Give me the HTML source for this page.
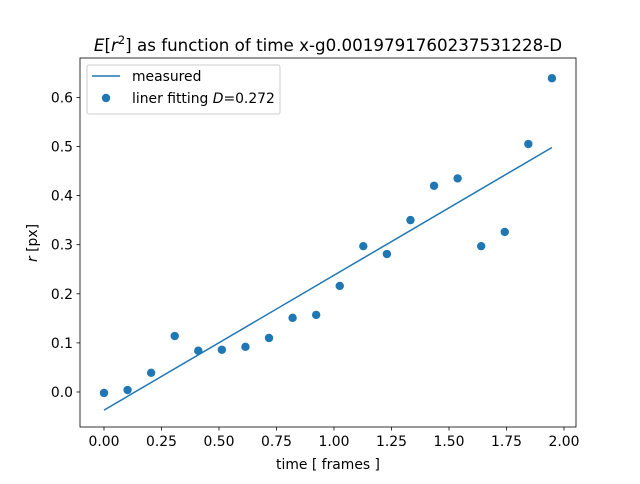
<!DOCTYPE html>
<html><head><meta charset="utf-8"><style>
body{margin:0;background:#fff;font-family:"DejaVu Sans","Liberation Sans",sans-serif;}
text{font-family:"DejaVu Sans","Liberation Sans",sans-serif;}
</style></head><body>
<svg id="chart" width="640" height="480" xmlns="http://www.w3.org/2000/svg"></svg>
<script>
const times=[0,0.1025,0.205,0.3075,0.41,0.5125,0.615,0.7175,0.82,0.9225,1.025,1.1275,1.23,1.3325,1.435,1.5375,1.64,1.7425,1.845,1.9475];
const values=[-0.002,0.004,0.039,0.114,0.084,0.086,0.092,0.110,0.151,0.157,0.216,0.297,0.281,0.350,0.420,0.435,0.297,0.326,0.505,0.639];
const fitX=[0,1.9475];
const fitY=[-0.037,0.498];
const xTicks=[0,0.25,0.5,0.75,1.0,1.25,1.5,1.75,2.0];
const xTickLabels=["0.00","0.25","0.50","0.75","1.00","1.25","1.50","1.75","2.00"];
const yTicks=[0,0.1,0.2,0.3,0.4,0.5,0.6];
const yTickLabels=["0.0","0.1","0.2","0.3","0.4","0.5","0.6"];
const L=80,R=576,T=58,B=427;
const xmin=-0.1043,xmax=2.0522,ymin=-0.0713,ymax=0.6802;
const sx=v=>L+(v-xmin)/(xmax-xmin)*(R-L);
const sy=v=>B-(v-ymin)/(ymax-ymin)*(B-T);
const svg=document.getElementById('chart');
const NS="http://www.w3.org/2000/svg";
function mk(tag,attrs,parent){const e=document.createElementNS(NS,tag);for(const k in attrs)e.setAttribute(k,attrs[k]);(parent||svg).appendChild(e);return e;}
const C="#1f77b4";
let pl=mk('polyline',{points:fitX.map((x,i)=>sx(x)+','+sy(fitY[i])).join(' '),fill:'none',stroke:C,'stroke-width':1.5});


times.forEach((t,i)=>{
  const c=mk('circle',{cx:sx(t),cy:sy(values[i]),r:4.2,fill:C});
  
  
});
const frame=mk('rect',{x:L,y:T,width:R-L,height:B-T,fill:'none',stroke:'#000','stroke-width':0.8});


xTicks.forEach((v,i)=>{
  const x=sx(v);
  mk('line',{x1:x,x2:x,y1:B,y2:B+3.5,stroke:'#000','stroke-width':0.8});
  const t=mk('text',{x:x,y:B+19,'font-size':13.9,'text-anchor':'middle'});t.textContent=xTickLabels[i];
  
  
});
yTicks.forEach((v,i)=>{
  const y=sy(v);
  mk('line',{x1:L-3.5,x2:L,y1:y,y2:y,stroke:'#000','stroke-width':0.8});
  const t=mk('text',{x:L-7,y:y+5,'font-size':13.9,'text-anchor':'end'});t.textContent=yTickLabels[i];
  
  
});
</script>
<svg style="position:absolute;left:0;top:0" width="640" height="480">
<text x="328" y="51" font-size="16.7" text-anchor="middle"><tspan font-style="italic">E</tspan>[<tspan font-style="italic">r</tspan><tspan font-size="11.5" dy="-7">2</tspan><tspan dy="7">] as function of time x-g0.0019791760237531228-D</tspan></text>
<text x="328" y="469" font-size="13.9" text-anchor="middle">time [ frames ]</text>
<text transform="translate(37,243) rotate(-90)" font-size="13.9" text-anchor="middle"><tspan font-style="italic">r</tspan> [px]</text>
<g>
<rect x="87" y="65" width="193" height="49" rx="2" fill="#fff" fill-opacity="0.8" stroke="#ccc" stroke-width="1"/>
<line x1="92" x2="120" y1="76" y2="76" stroke="#1f77b4" stroke-width="1.5"/>
<text x="132" y="81" font-size="13.9">measured</text>
<circle cx="106" cy="98" r="4.2" fill="#1f77b4"/>
<text x="132" y="103" font-size="13.9">liner fitting <tspan font-style="italic">D</tspan>=0.272</text>
</g>
</svg>
</body></html>
